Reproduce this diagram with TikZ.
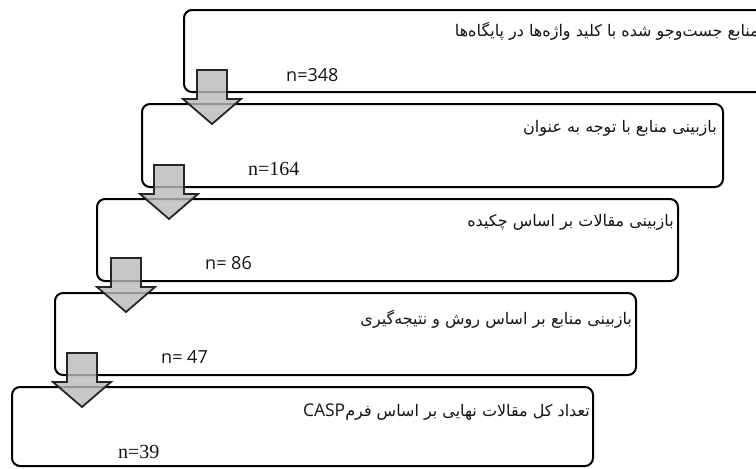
\documentclass[tikz,border=0pt]{standalone}
\usepackage{fontspec}
\setmainfont{Liberation Serif}
\newfontfamily\persian[Script=Arabic]{DejaVu Sans}
\newfontfamily\uisans{Open Sans}
\TeXXeTstate=1
\usetikzlibrary{calc}
\definecolor{arrowfill}{RGB}{185,185,185}
\definecolor{arrowline}{RGB}{38,38,38}
\definecolor{ink}{RGB}{20,20,20}
% down-pointing block arrow whose shaft starts at the given coordinate
\newcommand{\flowarrow}[1]{%
  \draw[blockarrow] ($(#1)+(-15,0)$) -- ++(30,0) -- ++(0,29) -- ++(14,0)
    -- ($(#1)+(0,54)$) -- ($(#1)+(-29,29)$) -- ++(14,0) -- cycle;}
\begin{document}
\begin{tikzpicture}[x=1pt,y=-1pt,
  stage/.style={draw=black, line width=2pt, rounded corners=8pt,
    minimum width=581pt, minimum height=82pt, anchor=north west,
    inner sep=0pt, outer sep=0pt},
  caption/.style={anchor=east, inner sep=0pt, text=ink,
    font=\persian\fontsize{16}{18}\selectfont},
  count serif/.style={anchor=west, inner sep=0pt, text=ink,
    font=\fontsize{20}{24}\selectfont},
  count sans/.style={anchor=west, inner sep=0pt, text=ink,
    font=\uisans\fontsize{18}{22}\selectfont},
  blockarrow/.style={fill=arrowfill, fill opacity=0.8, draw=arrowline,
    line width=1.8pt, line join=miter}]
\clip (0,0) rectangle (756,469);

% screening stages
\node[stage] (s1) at (184,10) {};
\node[stage, minimum height=83pt] (s2) at (142,104) {};
\node[stage] (s3) at (97,199) {};
\node[stage] (s4) at (55,293) {};
\node[stage, minimum height=79pt] (s5) at (12,387) {};

% stage descriptions
\node[caption] (t1) at ($(s1.north east)+(-6,21)$)
  {\beginR منابع جست^^^^200cوجو شده با کلید واژه^^^^200cها در پایگاه^^^^200cها\endR};
\node[caption] (t2) at ($(s2.north east)+(-6,24)$)
  {\beginR بازبینی منابع با توجه به عنوان\endR};
\node[caption] (t3) at ($(s3.north east)+(-4,23)$)
  {\beginR بازبینی مقالات بر اساس چکیده\endR};
\node[caption] (t4) at ($(s4.north east)+(-4,26)$)
  {\beginR بازبینی منابع بر اساس روش و نتیجه^^^^200cگیری\endR};
\node[caption] (t5) at ($(s5.north east)+(-3,25)$)
  {\beginR تعداد کل مقالات نهایی بر اساس فرم\beginL{\uisans\fontsize{17.5}{20}\selectfont CASP}\endL\endR};

% record counts
\node[count sans] (n1) at ($(s1.south west)+(102,-17)$) {n=348};
\node[count serif] (n2) at ($(s2.south west)+(106,-18)$) {n=164};
\node[count sans] (n3) at ($(s3.south west)+(108,-18)$) {n= 86};
\node[count sans] (n4) at ($(s4.south west)+(106,-18)$) {n= 47};
\node[count serif] (n5) at ($(s5.south west)+(106,-14)$) {n=39};

% arrows between consecutive stages
\coordinate (a1) at ($(s1.south west)+(28,-22)$);
\coordinate (a2) at ($(s2.south west)+(27,-22)$);
\coordinate (a3) at ($(s3.south west)+(29,-23)$);
\coordinate (a4) at ($(s4.south west)+(27,-22)$);
\flowarrow{a1}
\flowarrow{a2}
\flowarrow{a3}
\flowarrow{a4}
\end{tikzpicture}
\end{document}
